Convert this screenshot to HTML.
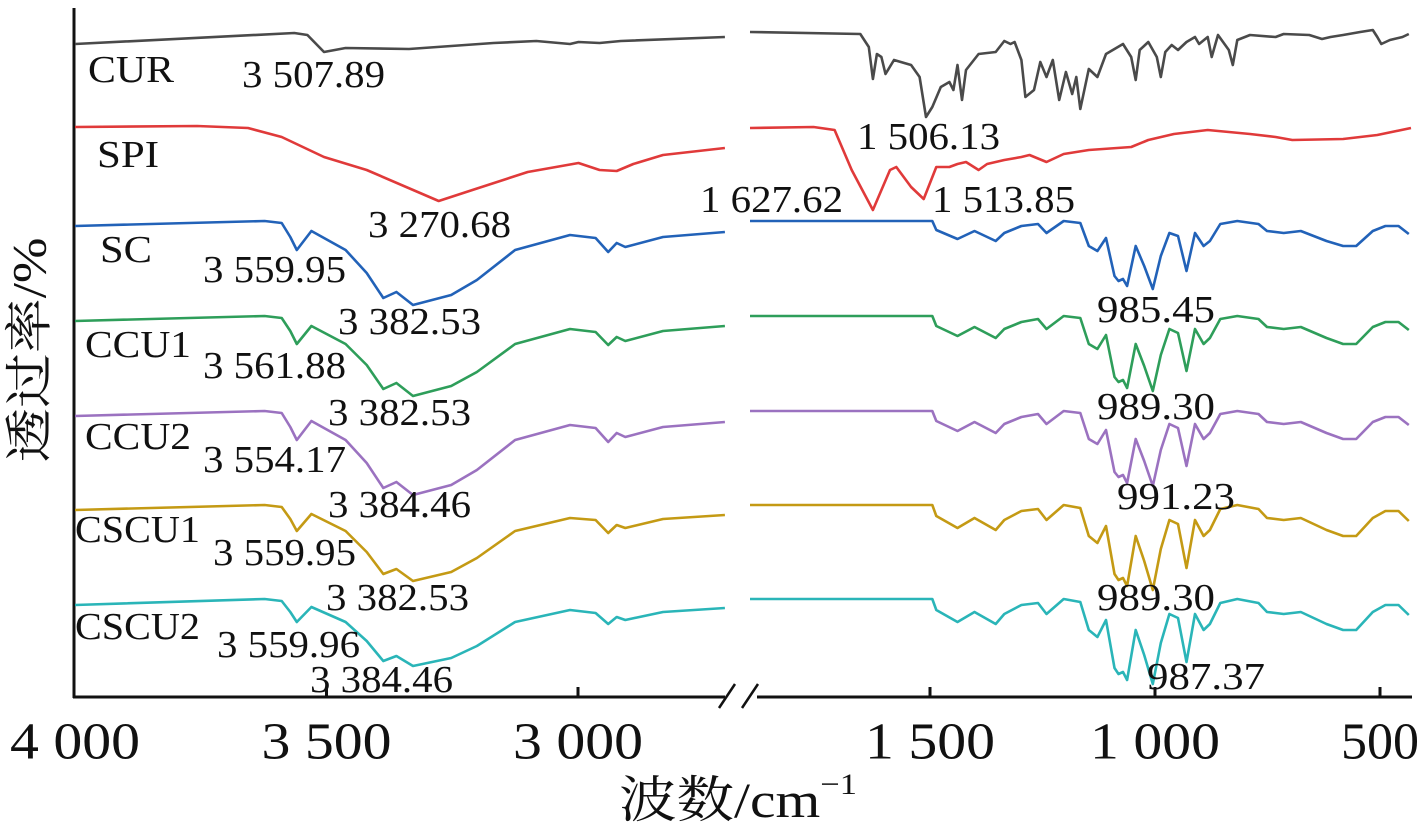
<!DOCTYPE html>
<html><head><meta charset="utf-8">
<style>
html,body{margin:0;padding:0;background:#fff;}
svg{display:block;}
text{font-family:"Liberation Serif","Noto Serif CJK SC",serif;fill:#111;}
</style></head>
<body>
<svg id="chart" width="1419" height="827" viewBox="0 0 1419 827" xmlns="http://www.w3.org/2000/svg">
<g id="axes"></g>
<g id="series"></g>
<g id="labels"></g>
</svg>
<script>
// ---- data ----
const xTicksLeft = [4000, 3500, 3000];
const xTickLabelsLeft = ["4 000", "3 500", "3 000"];
const xTicksRight = [1500, 1000, 500];
const xTickLabelsRight = ["1 500", "1 000", "500"];
const seriesNames = ["CUR", "SPI", "SC", "CCU1", "CCU2", "CSCU1", "CSCU2"];
const seriesColors = ["#4a4a4a", "#e03a3a", "#2262b8", "#2e9e5a", "#9b72c0", "#c49a14", "#2ab5b8"];
const seriesOffsets = [665, 570, 476, 381, 286, 192, 98];

const curLeftW = [4000,3564,3538,3505,3462,3336,3168,3083,3016,2999,2957,2915,2708];
const curLeftT = [-12,-1,-3,-20,-16,-17,-11,-9,-12,-10,-11,-9,-5];
const curRightW = [1900,1655,1636,1627,1618,1608,1599,1580,1542,1523,1509,1495,1476,1457,1448,1439,1429,1420,1392,1354,1335,1321,1312,1297,1288,1269,1255,1241,1227,1213,1198,1184,1175,1166,1147,1128,1109,1071,1053,1043,1034,1015,996,987,977,963,949,930,911,902,883,874,860,836,827,817,789,732,714,657,629,610,582,544,516,506,497,478,450,436];
const curRightT = [0,-2,-15,-47,-22,-25,-42,-28,-33,-45,-85,-75,-55,-50,-58,-33,-68,-38,-22,-20,-9,-12,-10,-28,-65,-58,-30,-45,-28,-68,-40,-62,-45,-77,-37,-45,-22,-12,-25,-48,-18,-10,-25,-45,-20,-13,-18,-10,-5,-12,-5,-25,-3,-18,-33,-8,-3,-5,-2,-3,-7,-5,-3,0,2,-5,-12,-8,-5,-2];

const spiLeftW = [4000,3757,3656,3589,3505,3420,3277,3210,3100,2999,2957,2923,2890,2831,2708];
const spiLeftT = [0,1,-1,-10,-30,-43,-74,-63,-45,-36,-43,-44,-37,-28,-21];
const spiRightW = [1900,1759,1712,1674,1627,1589,1575,1542,1514,1486,1457,1439,1420,1392,1373,1335,1297,1279,1241,1203,1147,1053,1015,958,883,789,732,695,582,506,431];
const spiRightT = [-1,0,-3,-43,-83,-43,-40,-60,-72,-40,-40,-37,-35,-43,-37,-33,-30,-28,-35,-27,-23,-20,-13,-7,-3,-7,-10,-13,-12,-8,-1];

const scLeftW = [4000,3623,3589,3572,3559,3530,3462,3420,3387,3361,3328,3252,3201,3125,3016,2965,2940,2923,2906,2831,2708];
const scRightW = [1900,1495,1486,1439,1401,1354,1335,1297,1260,1241,1203,1166,1147,1128,1109,1090,1081,1071,1062,1043,1024,1005,987,968,949,930,911,892,878,855,817,770,751,714,676,619,582,553,516,488,459,436];

const scLeftT    = [-5,0,-2,-16,-29,-10,-29,-52,-77,-71,-84,-74,-59,-29,-14,-17,-31,-22,-26,-16,-11];
const ccu1LeftT  = [-5,0,-2,-15,-28,-10,-28,-49,-73,-67,-80,-70,-56,-28,-13,-16,-29,-21,-25,-15,-10];
const ccu2LeftT  = [-5,0,-2,-16,-29,-10,-29,-52,-77,-71,-84,-74,-59,-29,-14,-17,-31,-22,-26,-16,-11];
const cscu1LeftT = [-5,0,-2,-14,-26,-9,-26,-47,-69,-64,-76,-67,-53,-26,-13,-15,-28,-20,-23,-14,-10];
const cscu2LeftT = [-6,0,-2,-13,-23,-8,-23,-42,-62,-57,-67,-59,-47,-23,-11,-14,-25,-18,-21,-13,-9];

const scRightT    = [0,0,-9,-18,-10,-20,-12,-5,-3,-12,0,-2,-25,-30,-17,-55,-60,-58,-65,-25,-45,-68,-35,-12,-15,-50,-12,-25,-20,-3,0,-3,-10,-12,-10,-20,-25,-25,-10,-5,-5,-13];
const ccu1RightT  = [0,0,-10,-20,-11,-22,-13,-6,-3,-13,0,-2,-28,-33,-19,-61,-66,-64,-72,-28,-50,-75,-39,-13,-17,-55,-13,-28,-22,-3,0,-3,-11,-13,-11,-22,-28,-28,-11,-6,-6,-14];
const ccu2RightT  = [0,0,-10,-20,-11,-22,-13,-6,-3,-13,0,-2,-28,-33,-19,-61,-66,-64,-72,-28,-50,-75,-39,-13,-17,-55,-13,-28,-22,-3,0,-3,-11,-13,-11,-22,-28,-28,-11,-6,-6,-14];
const cscu1RightT = [0,0,-11,-23,-13,-25,-15,-6,-4,-15,0,-3,-31,-38,-21,-69,-75,-73,-81,-31,-56,-85,-44,-15,-19,-63,-15,-31,-25,-4,0,-4,-13,-15,-13,-25,-31,-31,-13,-6,-6,-16];
const cscu2RightT = [0,0,-11,-23,-13,-25,-15,-6,-4,-15,0,-3,-31,-38,-21,-69,-75,-73,-81,-31,-56,-85,-44,-15,-19,-63,-15,-31,-25,-4,0,-4,-13,-15,-13,-25,-31,-31,-13,-6,-6,-16];

const peakText = ["3 507.89","1 506.13","3 270.68","1 627.62","1 513.85","3 559.95","3 382.53","985.45","3 561.88","3 382.53","989.30","3 554.17","3 384.46","991.23","3 559.95","3 382.53","989.30","3 559.96","3 384.46","987.37"];

// ---- scales ----
function xLeft(w){ return 75 + (4000 - w) * 0.503; }
function xRight(w){ return 930 + (1500 - w) * 0.45; }
function yScale(v){ return 697 - v; }

const NS = "http://www.w3.org/2000/svg";
function mk(tag, attrs, parent){ const e = document.createElementNS(NS, tag); for (const k in attrs) e.setAttribute(k, attrs[k]); parent.appendChild(e); return e; }

const axes = document.getElementById('axes');
let e;
e = mk('line',{x1:74,y1:8,x2:74,y2:698,stroke:'#111','stroke-width':3},axes);


e = mk('line',{x1:73,y1:697,x2:725,y2:697,stroke:'#111','stroke-width':3},axes);


e = mk('line',{x1:757,y1:697,x2:1412,y2:697,stroke:'#111','stroke-width':3},axes);


e = mk('path',{d:'M719 708 L735 684 M742 708 L758 684',stroke:'#111','stroke-width':2.5,fill:'none'},axes);



xTicksLeft.forEach((w,i)=>{
  const x = xLeft(w);
  if (i>0){ const t = mk('line',{x1:x,y1:687,x2:x,y2:697,stroke:'#111','stroke-width':3},axes);
  
   }
  const l = mk('text',{x:x,y:742,'text-anchor':'middle','dominant-baseline':'central','font-size':52,textLength:130,lengthAdjust:'spacingAndGlyphs'},axes);
  l.textContent = xTickLabelsLeft[i];
  
  
});
xTicksRight.forEach((w,i)=>{
  const x = xRight(w);
  const t = mk('line',{x1:x,y1:687,x2:x,y2:697,stroke:'#111','stroke-width':3},axes);
  
  
  const len = xTickLabelsRight[i].length===3 ? 78 : 130;
  const l = mk('text',{x:x,y:742,'text-anchor':'middle','dominant-baseline':'central','font-size':52,textLength:len,lengthAdjust:'spacingAndGlyphs'},axes);
  l.textContent = xTickLabelsRight[i];
  
  
});
e = mk('text',{x:738,y:800,'text-anchor':'middle','dominant-baseline':'central','font-size':50,textLength:238,lengthAdjust:'spacingAndGlyphs'},axes);
e.innerHTML = '波数/cm<tspan font-size="30" dy="-16">−1</tspan>';


e = mk('text',{x:0,y:0,'text-anchor':'middle','dominant-baseline':'central','font-size':48,transform:'translate(30,350) rotate(-90)',textLength:225,lengthAdjust:'spacingAndGlyphs'},axes);
e.textContent = '透过率/%';



// ---- series ----
const leftW = [curLeftW, spiLeftW, scLeftW, scLeftW, scLeftW, scLeftW, scLeftW];
const leftT = [curLeftT, spiLeftT, scLeftT, ccu1LeftT, ccu2LeftT, cscu1LeftT, cscu2LeftT];
const rightW = [curRightW, spiRightW, scRightW, scRightW, scRightW, scRightW, scRightW];
const rightT = [curRightT, spiRightT, scRightT, ccu1RightT, ccu2RightT, cscu1RightT, cscu2RightT];
const sg = document.getElementById('series');
seriesNames.forEach((n,i)=>{
  const pl = leftW[i].map((w,j)=>xLeft(w).toFixed(1)+','+yScale(seriesOffsets[i]+leftT[i][j]).toFixed(1)).join(' ');
  const pr = rightW[i].map((w,j)=>xRight(w).toFixed(1)+','+yScale(seriesOffsets[i]+rightT[i][j]).toFixed(1)).join(' ');
  const a = mk('polyline',{points:pl,fill:'none',stroke:seriesColors[i],'stroke-width':2.6,'stroke-linejoin':'round'},sg);
  
  
  const b = mk('polyline',{points:pr,fill:'none',stroke:seriesColors[i],'stroke-width':2.6,'stroke-linejoin':'round'},sg);
  
  
});

// ---- labels ----
const lg = document.getElementById('labels');
const nameX = [88,97,100,85,85,75,75];
const nameY = [70,155,250,345,437,530,627];
const nameLen = [86,62,52,106,106,125,125];
seriesNames.forEach((n,i)=>{
  const t = mk('text',{x:nameX[i],y:nameY[i],'dominant-baseline':'central','font-size':38,textLength:nameLen[i],lengthAdjust:'spacingAndGlyphs'},lg);
  t.textContent = n;
  
  
});
const px = [242,857,368,700,932,203,338,1097,203,328,1097,203,328,1117,213,326,1097,217,310,1147];
const py = [75,137,225,200,200,270,322,310,366,413,407,460,505,497,553,598,598,645,680,677];
peakText.forEach((s,i)=>{
  const len = s.length===6 ? 118 : 143;
  const t = mk('text',{x:px[i],y:py[i],'dominant-baseline':'central','font-size':38,textLength:len,lengthAdjust:'spacingAndGlyphs'},lg);
  t.textContent = s;
  
  
});
</script>
</body></html>
